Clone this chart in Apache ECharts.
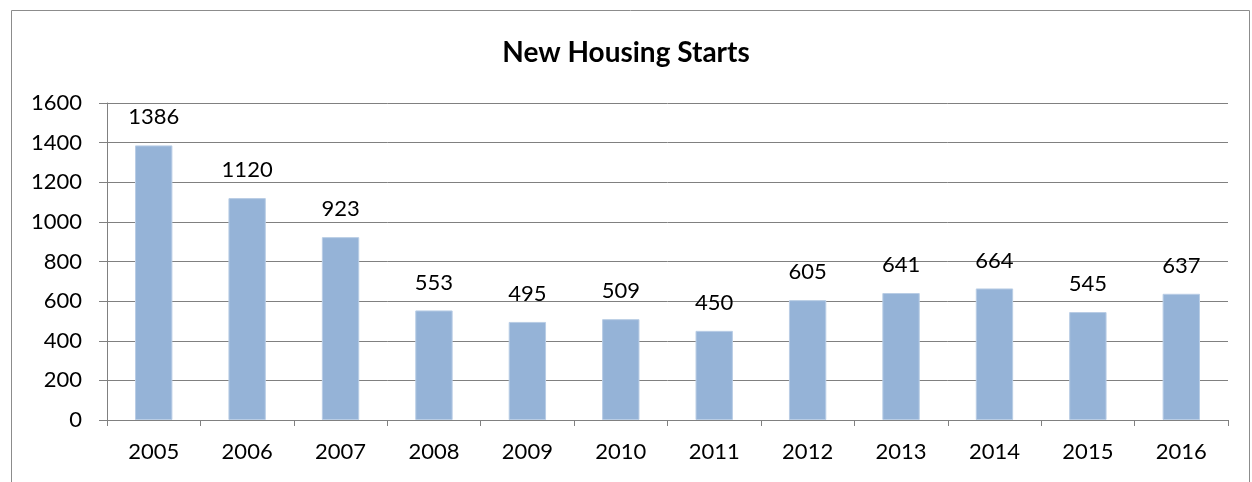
<!DOCTYPE html>
<html>
<head>
<meta charset="utf-8">
<script src="https://cdn.jsdelivr.net/npm/echarts@6/dist/echarts.min.js"></script>
<style>
  html, body { margin: 0; padding: 0; background: #fff; }
  #chart { width: 1252px; height: 482px; }
</style>
</head>
<body>
<div id="chart"></div>
<script>
const years = ["2005", "2006", "2007", "2008", "2009", "2010", "2011", "2012", "2013", "2014", "2015", "2016"];
const starts = [1386, 1120, 923, 553, 495, 509, 450, 605, 641, 664, 545, 637];

const chart = echarts.init(document.getElementById("chart"));
const fontFamily = "Lato, 'Open Sans', sans-serif";
const lineColor = "#808080";

chart.setOption({
  animation: false,
  textStyle: { fontFamily: fontFamily },
  title: {
    text: "New Housing Starts",
    left: "center",
    top: 34,
    textStyle: { fontSize: 28, fontWeight: "bold", color: "#000", fontFamily: fontFamily },
  },
  graphic: [
    {
      type: "rect",
      shape: { x: 11.5, y: 10.5, width: 1238, height: 500 },
      style: { fill: "none", stroke: "#8c8c8c", lineWidth: 1 },
      silent: true,
    },
  ],
  grid: { left: 107, right: 24, top: 103, bottom: 62 },
  xAxis: {
    type: "category",
    data: years,
    axisLine: { lineStyle: { color: lineColor, width: 1 } },
    axisTick: { show: true, length: 6, lineStyle: { color: lineColor } },
    axisLabel: { color: "#000", fontSize: 22, margin: 21 },
  },
  yAxis: {
    type: "value",
    min: 0,
    max: 1600,
    interval: 200,
    axisLine: { show: true, lineStyle: { color: lineColor, width: 1 } },
    axisTick: { show: true, length: 8, lineStyle: { color: lineColor } },
    axisLabel: { color: "#000", fontSize: 22, margin: 25, formatter: (v) => String(v) },
    splitLine: { lineStyle: { color: lineColor, width: 1 } },
  },
  series: [
    {
      type: "bar",
      data: starts,
      barCategoryGap: "60%",
      itemStyle: { color: "#95b3d7", borderColor: "#b9cde5", borderWidth: 1 },
      label: {
        show: true,
        position: "top",
        distance: 17,
        color: "#000",
        fontSize: 22,
      },
    },
  ],
});
</script>
</body>
</html>
